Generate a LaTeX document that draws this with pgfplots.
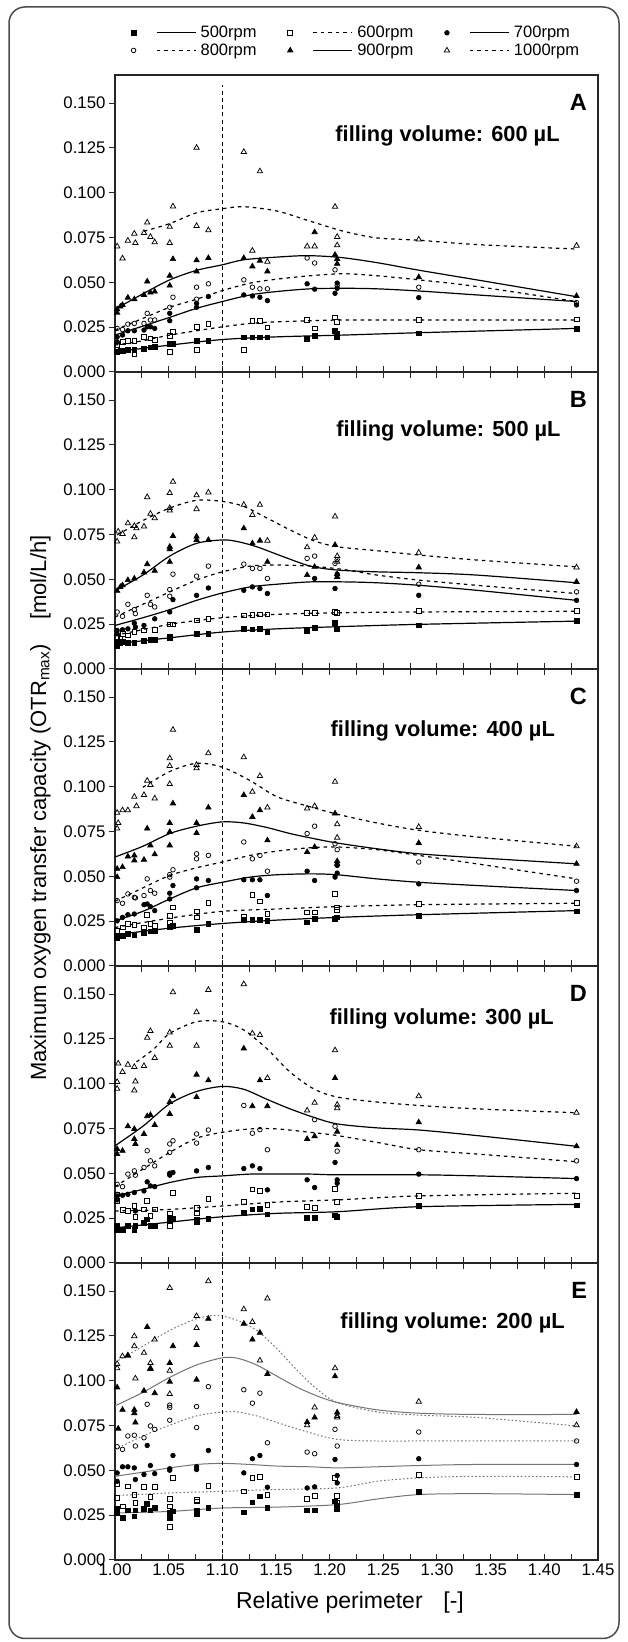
\documentclass[border=0pt]{standalone}
\usepackage{pgfplots}
\pgfplotsset{compat=1.18}
\usepackage{fontspec}
\setmainfont{Liberation Sans}

\tikzset{
 m500/.style={mark=square*, mark size=2.4pt, mark options={solid, draw=black, fill=black, line width=0.7pt}},
 m600/.style={mark=square, mark size=2.4pt, mark options={solid, draw=black, line width=0.75pt}},
 m700/.style={mark=*, mark size=2.3pt, mark options={solid, draw=black, fill=black, line width=0.7pt}},
 m800/.style={mark=o, mark size=2.3pt, mark options={solid, draw=black, line width=0.75pt}},
 m900/.style={mark=triangle*, mark size=3.1pt, mark options={solid, draw=black, fill=black, line width=0.7pt}},
 m1000/.style={mark=triangle, mark size=3.1pt, mark options={solid, draw=black, line width=0.75pt}},
 vline/.style={black, line width=1.2pt, dash pattern=on 4pt off 3.3pt},
}
\pgfplotsset{
 panel/.style={scale only axis, width=483pt, height=297pt, anchor=south west,
  xmin=1, xmax=1.45, ymin=0, ymax=0.1657,
  axis line style={black!85, line width=1.2pt},
  tick style={black!85, line width=1pt},
  xtick={1,1.05,1.1,1.15,1.2,1.25,1.3,1.35,1.4,1.45},
  minor xtick={1.025,1.075,1.125,1.175,1.225,1.275,1.325,1.375,1.425},
  ytick={0,0.025,0.05,0.075,0.1,0.125,0.15},
  scaled x ticks=false, scaled y ticks=false,
  ytick pos=left, xtick align=inside, ytick align=outside,
  major tick length=6pt, minor tick length=6pt,
  tick label style={font=\fontsize{16.8}{19}\selectfont},
  yticklabel style={/pgf/number format/.cd,fixed,fixed zerofill,precision=3},
  xticklabel style={/pgf/number format/.cd,fixed,fixed zerofill,precision=2},
  /pgf/number format/assume math mode=true,
 },
 sc/.style={only marks, forget plot},
 fs/.style={black, line width=1.2pt, smooth, no marks, forget plot},
 fd/.style={black, line width=1.2pt, smooth, no marks, forget plot, dash pattern=on 3.5pt off 4pt},
 gs/.style={black!55, line width=1pt, smooth, no marks, forget plot},
 gd/.style={black!55, line width=1pt, smooth, no marks, forget plot, dash pattern=on 1.6pt off 2.2pt},
}
\newcommand{\plabel}[3]{%
 \node[anchor=east, font=\bfseries\fontsize{23.5}{26}\selectfont] at (axis cs:1.443,0.1505) {#1};
 \node[font=\bfseries\fontsize{21.8}{24}\selectfont] at (axis cs:#3) {filling volume: #2 µL};
}

\begin{document}
\begin{tikzpicture}
\useasboundingbox (0,0) rectangle (627pt,1642pt);
\draw[rounded corners=16pt, line width=1.5pt, black!70] (9pt,3.5pt) rectangle (619pt,1635pt);

% ---------------- Panel A: 600 uL
\begin{axis}[panel, at={(115pt,1270pt)}, xtick pos=bottom, xticklabels={},
  legend columns=3, legend cell align=left,
  legend style={draw=none, fill=none, at={(axis description cs:0.0331,1.1663)}, anchor=north west,
   font=\fontsize{16.5}{19}\selectfont, inner sep=0pt, row sep=3.6pt, nodes={inner sep=0.5pt},
   /tikz/every odd column/.append style={column sep=4pt},
   /tikz/every even column/.append style={column sep=30.5pt}}]
\addplot[sc,m1000] coordinates {(1.002,0.0701)(1.007,0.0634)(1.012,0.0733)(1.018,0.0772)(1.019,0.0720)(1.027,0.0776)(1.030,0.0834)(1.033,0.0754)(1.037,0.0724)(1.051,0.0720)(1.051,0.0810)(1.054,0.0924)(1.076,0.1251)(1.076,0.0815)(1.087,0.0791)(1.120,0.1228)(1.128,0.0677)(1.135,0.1120)(1.142,0.0615)(1.179,0.0701)(1.186,0.0701)(1.205,0.0922)(1.207,0.0754)(1.207,0.0707)(1.283,0.0739)(1.430,0.0705)};
\addplot[sc,m900] coordinates {(1.002,0.0350)(1.002,0.0331)(1.005,0.0365)(1.007,0.0374)(1.012,0.0415)(1.018,0.0406)(1.027,0.0430)(1.030,0.0505)(1.033,0.0443)(1.037,0.0449)(1.051,0.0482)(1.051,0.0537)(1.054,0.0630)(1.076,0.0623)(1.076,0.0561)(1.087,0.0636)(1.120,0.0636)(1.128,0.0589)(1.135,0.0621)(1.142,0.0561)(1.186,0.0780)(1.205,0.0654)(1.207,0.0630)(1.207,0.0604)(1.283,0.0529)(1.430,0.0424)};
\addplot[sc,m800] coordinates {(1.002,0.0243)(1.007,0.0237)(1.012,0.0267)(1.018,0.0271)(1.027,0.0271)(1.030,0.0327)(1.033,0.0290)(1.037,0.0290)(1.051,0.0361)(1.054,0.0417)(1.076,0.0473)(1.076,0.0406)(1.087,0.0492)(1.120,0.0514)(1.128,0.0473)(1.135,0.0464)(1.142,0.0464)(1.179,0.0636)(1.186,0.0608)(1.205,0.0570)(1.207,0.0481)(1.283,0.0473)(1.430,0.0387)};
\addplot[sc,m700] coordinates {(1.002,0.0196)(1.002,0.0168)(1.007,0.0206)(1.012,0.0230)(1.018,0.0230)(1.027,0.0234)(1.030,0.0252)(1.033,0.0252)(1.037,0.0243)(1.051,0.0286)(1.051,0.0327)(1.076,0.0383)(1.076,0.0361)(1.087,0.0421)(1.120,0.0430)(1.128,0.0424)(1.135,0.0417)(1.142,0.0398)(1.179,0.0492)(1.186,0.0462)(1.205,0.0439)(1.207,0.0496)(1.207,0.0467)(1.283,0.0415)(1.430,0.0374)};
\addplot[sc,m600] coordinates {(1.002,0.0150)(1.007,0.0168)(1.012,0.0174)(1.018,0.0174)(1.018,0.0103)(1.027,0.0196)(1.033,0.0187)(1.037,0.0181)(1.051,0.0112)(1.051,0.0200)(1.054,0.0224)(1.076,0.0252)(1.076,0.0125)(1.087,0.0267)(1.120,0.0125)(1.128,0.0286)(1.135,0.0286)(1.142,0.0249)(1.179,0.0290)(1.186,0.0243)(1.205,0.0305)(1.207,0.0280)(1.283,0.0290)(1.430,0.0294)};
\addplot[sc,m500] coordinates {(1.002,0.0112)(1.005,0.0116)(1.007,0.0118)(1.012,0.0122)(1.018,0.0125)(1.027,0.0131)(1.033,0.0137)(1.037,0.0140)(1.051,0.0155)(1.054,0.0155)(1.076,0.0174)(1.087,0.0174)(1.120,0.0193)(1.128,0.0193)(1.135,0.0193)(1.142,0.0193)(1.179,0.0187)(1.186,0.0202)(1.205,0.0230)(1.207,0.0211)(1.207,0.0196)(1.283,0.0215)(1.430,0.0241)};
\addplot[fd] coordinates {(1.027,0.0785)(1.051,0.0828)(1.076,0.0888)(1.100,0.0911)(1.120,0.0922)(1.151,0.0898)(1.182,0.0841)(1.213,0.0785)(1.244,0.0748)(1.283,0.0735)(1.337,0.0711)(1.430,0.0686)};
\addplot[fs] coordinates {(1.000,0.0350)(1.026,0.0436)(1.051,0.0514)(1.076,0.0567)(1.100,0.0598)(1.120,0.0626)(1.151,0.0641)(1.179,0.0649)(1.210,0.0639)(1.244,0.0610)(1.283,0.0568)(1.337,0.0514)(1.430,0.0420)};
\addplot[fd] coordinates {(1.000,0.0234)(1.026,0.0299)(1.051,0.0361)(1.076,0.0406)(1.100,0.0454)(1.126,0.0496)(1.151,0.0518)(1.182,0.0537)(1.213,0.0548)(1.244,0.0537)(1.283,0.0514)(1.337,0.0477)(1.430,0.0393)};
\addplot[fs] coordinates {(1.000,0.0206)(1.026,0.0256)(1.051,0.0305)(1.076,0.0355)(1.100,0.0393)(1.126,0.0430)(1.151,0.0449)(1.182,0.0464)(1.213,0.0467)(1.244,0.0464)(1.283,0.0452)(1.337,0.0430)(1.430,0.0393)};
\addplot[fd] coordinates {(1.000,0.0150)(1.026,0.0174)(1.051,0.0206)(1.076,0.0230)(1.100,0.0252)(1.126,0.0271)(1.151,0.0280)(1.182,0.0286)(1.213,0.0290)(1.283,0.0290)(1.430,0.0290)};
\addplot[fs] coordinates {(1.000,0.0112)(1.051,0.0150)(1.100,0.0181)(1.151,0.0196)(1.213,0.0206)(1.283,0.0219)(1.430,0.0243)};
\draw[vline] (axis cs:1.1,0) -- (axis cs:1.1,0.160);
\plabel{A}{600}{1.3098,0.1316}
\addlegendimage{legend image code/.code={\draw[m500] plot coordinates {(0pt,0pt)}; \draw[black,line width=1.1pt] (23pt,0pt) -- (62pt,0pt);}}
\addlegendentry{500rpm}
\addlegendimage{legend image code/.code={\draw[m600] plot coordinates {(0pt,0pt)}; \draw[black,line width=1.1pt,dash pattern=on 3.5pt off 4pt] (23pt,0pt) -- (62pt,0pt);}}
\addlegendentry{600rpm}
\addlegendimage{legend image code/.code={\draw[m700] plot coordinates {(0pt,0pt)}; \draw[black,line width=1.1pt] (23pt,0pt) -- (62pt,0pt);}}
\addlegendentry{700rpm}
\addlegendimage{legend image code/.code={\draw[m800] plot coordinates {(0pt,0pt)}; \draw[black,line width=1.1pt,dash pattern=on 3.5pt off 4pt] (23pt,0pt) -- (62pt,0pt);}}
\addlegendentry{800rpm}
\addlegendimage{legend image code/.code={\draw[m900] plot coordinates {(0pt,0pt)}; \draw[black,line width=1.1pt] (23pt,0pt) -- (62pt,0pt);}}
\addlegendentry{900rpm}
\addlegendimage{legend image code/.code={\draw[m1000] plot coordinates {(0pt,0pt)}; \draw[black,line width=1.1pt,dash pattern=on 3.5pt off 4pt] (23pt,0pt) -- (62pt,0pt);}}
\addlegendentry{1000rpm}
\end{axis}

% ---------------- Panel B: 500 uL
\begin{axis}[panel, at={(115pt,973pt)}, xtick pos=both, xticklabels={}]
\addplot[sc,m1000] coordinates {(1.002,0.0711)(1.003,0.0767)(1.007,0.0754)(1.012,0.0813)(1.018,0.0735)(1.018,0.0798)(1.020,0.0785)(1.027,0.0795)(1.030,0.0959)(1.033,0.0866)(1.037,0.0841)(1.051,0.0884)(1.051,0.0898)(1.051,0.0982)(1.054,0.1045)(1.076,0.0892)(1.076,0.0969)(1.087,0.0985)(1.120,0.0916)(1.128,0.0860)(1.135,0.0916)(1.142,0.0716)(1.179,0.0679)(1.186,0.0733)(1.205,0.0851)(1.207,0.0630)(1.207,0.0598)(1.283,0.0649)(1.430,0.0567)};
\addplot[sc,m900] coordinates {(1.002,0.0436)(1.005,0.0458)(1.007,0.0467)(1.012,0.0496)(1.018,0.0505)(1.027,0.0539)(1.030,0.0585)(1.037,0.0548)(1.051,0.0598)(1.051,0.0668)(1.051,0.0682)(1.054,0.0742)(1.076,0.0739)(1.076,0.0720)(1.087,0.0720)(1.120,0.0785)(1.128,0.0701)(1.135,0.0716)(1.142,0.0598)(1.179,0.0524)(1.186,0.0570)(1.205,0.0692)(1.207,0.0529)(1.207,0.0514)(1.283,0.0567)(1.430,0.0486)};
\addplot[sc,m800] coordinates {(1.002,0.0318)(1.007,0.0294)(1.012,0.0361)(1.018,0.0331)(1.019,0.0309)(1.030,0.0411)(1.033,0.0361)(1.037,0.0346)(1.051,0.0406)(1.051,0.0443)(1.054,0.0529)(1.076,0.0518)(1.087,0.0574)(1.120,0.0585)(1.128,0.0561)(1.135,0.0561)(1.142,0.0505)(1.179,0.0617)(1.186,0.0630)(1.205,0.0589)(1.207,0.0611)(1.283,0.0473)(1.430,0.0430)};
\addplot[sc,m700] coordinates {(1.002,0.0215)(1.002,0.0196)(1.007,0.0219)(1.012,0.0224)(1.018,0.0256)(1.019,0.0234)(1.027,0.0243)(1.037,0.0280)(1.051,0.0318)(1.054,0.0387)(1.076,0.0411)(1.087,0.0452)(1.120,0.0439)(1.128,0.0458)(1.135,0.0449)(1.142,0.0421)(1.186,0.0505)(1.205,0.0449)(1.207,0.0529)(1.283,0.0411)(1.430,0.0383)};
\addplot[sc,m600] coordinates {(1.002,0.0178)(1.005,0.0168)(1.007,0.0196)(1.012,0.0187)(1.018,0.0206)(1.027,0.0215)(1.037,0.0219)(1.051,0.0249)(1.054,0.0249)(1.076,0.0271)(1.087,0.0280)(1.120,0.0299)(1.128,0.0303)(1.135,0.0305)(1.142,0.0305)(1.179,0.0312)(1.186,0.0312)(1.205,0.0318)(1.207,0.0314)(1.283,0.0322)(1.430,0.0322)};
\addplot[sc,m500] coordinates {(1.002,0.0131)(1.002,0.0150)(1.005,0.0144)(1.007,0.0150)(1.012,0.0144)(1.018,0.0144)(1.027,0.0159)(1.033,0.0163)(1.037,0.0163)(1.051,0.0174)(1.051,0.0181)(1.076,0.0196)(1.087,0.0196)(1.120,0.0224)(1.128,0.0221)(1.135,0.0223)(1.142,0.0206)(1.179,0.0215)(1.186,0.0230)(1.205,0.0256)(1.207,0.0224)(1.283,0.0243)(1.430,0.0267)};
\addplot[fd] coordinates {(1.002,0.0748)(1.026,0.0828)(1.051,0.0898)(1.076,0.0941)(1.100,0.0935)(1.120,0.0907)(1.142,0.0841)(1.163,0.0776)(1.185,0.0716)(1.207,0.0682)(1.244,0.0660)(1.283,0.0636)(1.337,0.0608)(1.430,0.0570)};
\addplot[fs] coordinates {(1.000,0.0436)(1.026,0.0524)(1.051,0.0630)(1.076,0.0701)(1.100,0.0720)(1.114,0.0711)(1.132,0.0682)(1.157,0.0626)(1.182,0.0574)(1.207,0.0552)(1.244,0.0542)(1.283,0.0537)(1.337,0.0524)(1.430,0.0481)};
\addplot[fd] coordinates {(1.000,0.0290)(1.026,0.0361)(1.051,0.0430)(1.076,0.0496)(1.100,0.0542)(1.126,0.0574)(1.151,0.0580)(1.182,0.0574)(1.213,0.0555)(1.244,0.0524)(1.283,0.0496)(1.337,0.0467)(1.430,0.0421)};
\addplot[fs] coordinates {(1.000,0.0243)(1.026,0.0286)(1.051,0.0331)(1.076,0.0383)(1.100,0.0424)(1.126,0.0458)(1.151,0.0473)(1.182,0.0486)(1.213,0.0486)(1.244,0.0481)(1.283,0.0467)(1.337,0.0439)(1.430,0.0383)};
\addplot[fd] coordinates {(1.000,0.0187)(1.051,0.0249)(1.100,0.0286)(1.151,0.0305)(1.213,0.0314)(1.283,0.0318)(1.430,0.0322)};
\addplot[fs] coordinates {(1.000,0.0140)(1.051,0.0174)(1.100,0.0206)(1.151,0.0224)(1.213,0.0237)(1.283,0.0249)(1.430,0.0267)};
\draw[vline] (axis cs:1.1,0) -- (axis cs:1.1,0.1657);
\plabel{B}{500}{1.3107,0.1329}
\end{axis}

% ---------------- Panel C: 400 uL
\begin{axis}[panel, at={(115pt,676pt)}, xtick pos=both, xticklabels={}]
\addplot[sc,m1000] coordinates {(1.002,0.0855)(1.003,0.0798)(1.002,0.0767)(1.007,0.0869)(1.012,0.0869)(1.018,0.0944)(1.020,0.0892)(1.027,0.0954)(1.030,0.1034)(1.033,0.1010)(1.037,0.0935)(1.051,0.1015)(1.051,0.1159)(1.051,0.1116)(1.054,0.1318)(1.076,0.1122)(1.076,0.1103)(1.087,0.1187)(1.120,0.1165)(1.128,0.0972)(1.135,0.1060)(1.142,0.0884)(1.179,0.0879)(1.186,0.0892)(1.205,0.1028)(1.207,0.0791)(1.207,0.0716)(1.283,0.0776)(1.430,0.0668)};
\addplot[sc,m900] coordinates {(1.002,0.0496)(1.002,0.0542)(1.007,0.0552)(1.012,0.0611)(1.018,0.0617)(1.018,0.0589)(1.027,0.0593)(1.030,0.0767)(1.033,0.0673)(1.037,0.0623)(1.051,0.0673)(1.051,0.0748)(1.051,0.0798)(1.054,0.0907)(1.076,0.0798)(1.076,0.0742)(1.087,0.0884)(1.120,0.0954)(1.128,0.0832)(1.135,0.0869)(1.142,0.0701)(1.179,0.0636)(1.186,0.0664)(1.205,0.0851)(1.207,0.0570)(1.207,0.0585)(1.283,0.0686)(1.430,0.0570)};
\addplot[sc,m800] coordinates {(1.002,0.0365)(1.007,0.0350)(1.012,0.0402)(1.018,0.0383)(1.019,0.0380)(1.027,0.0393)(1.030,0.0486)(1.033,0.0421)(1.037,0.0406)(1.051,0.0496)(1.051,0.0510)(1.054,0.0537)(1.076,0.0626)(1.076,0.0598)(1.087,0.0617)(1.120,0.0692)(1.128,0.0598)(1.135,0.0617)(1.142,0.0529)(1.179,0.0739)(1.186,0.0780)(1.205,0.0682)(1.207,0.0649)(1.283,0.0580)(1.430,0.0473)};
\addplot[sc,m700] coordinates {(1.002,0.0252)(1.007,0.0271)(1.012,0.0286)(1.018,0.0290)(1.027,0.0342)(1.030,0.0346)(1.033,0.0331)(1.037,0.0309)(1.051,0.0374)(1.051,0.0406)(1.054,0.0449)(1.076,0.0486)(1.076,0.0436)(1.087,0.0477)(1.120,0.0481)(1.128,0.0481)(1.135,0.0481)(1.142,0.0393)(1.179,0.0529)(1.186,0.0477)(1.205,0.0496)(1.207,0.0518)(1.207,0.0561)(1.283,0.0458)(1.430,0.0421)};
\addplot[sc,m600] coordinates {(1.002,0.0196)(1.007,0.0215)(1.012,0.0234)(1.018,0.0230)(1.027,0.0215)(1.030,0.0286)(1.033,0.0234)(1.037,0.0223)(1.051,0.0243)(1.051,0.0280)(1.054,0.0327)(1.076,0.0305)(1.076,0.0271)(1.087,0.0350)(1.120,0.0275)(1.128,0.0398)(1.135,0.0361)(1.142,0.0290)(1.179,0.0299)(1.186,0.0299)(1.205,0.0402)(1.207,0.0327)(1.207,0.0312)(1.283,0.0346)(1.430,0.0350)};
\addplot[sc,m500] coordinates {(1.002,0.0155)(1.002,0.0168)(1.007,0.0168)(1.012,0.0181)(1.018,0.0174)(1.027,0.0187)(1.033,0.0193)(1.037,0.0193)(1.051,0.0219)(1.054,0.0223)(1.076,0.0200)(1.087,0.0234)(1.120,0.0256)(1.128,0.0256)(1.135,0.0256)(1.142,0.0252)(1.179,0.0243)(1.186,0.0262)(1.205,0.0262)(1.207,0.0271)(1.283,0.0280)(1.430,0.0305)};
\addplot[fd] coordinates {(1.026,0.0997)(1.051,0.1085)(1.076,0.1131)(1.100,0.1109)(1.126,0.1034)(1.151,0.0944)(1.182,0.0888)(1.207,0.0847)(1.244,0.0798)(1.283,0.0757)(1.337,0.0720)(1.430,0.0668)};
\addplot[fs] coordinates {(1.000,0.0608)(1.026,0.0668)(1.051,0.0739)(1.076,0.0780)(1.100,0.0804)(1.120,0.0798)(1.142,0.0772)(1.163,0.0739)(1.185,0.0711)(1.207,0.0686)(1.244,0.0654)(1.283,0.0626)(1.337,0.0604)(1.430,0.0570)};
\addplot[fd] coordinates {(1.000,0.0361)(1.026,0.0436)(1.051,0.0505)(1.076,0.0548)(1.100,0.0580)(1.126,0.0617)(1.151,0.0641)(1.182,0.0660)(1.207,0.0664)(1.244,0.0649)(1.283,0.0617)(1.337,0.0570)(1.430,0.0486)};
\addplot[fs] coordinates {(1.000,0.0252)(1.026,0.0305)(1.051,0.0374)(1.076,0.0436)(1.100,0.0467)(1.126,0.0496)(1.151,0.0509)(1.182,0.0514)(1.207,0.0509)(1.244,0.0486)(1.283,0.0467)(1.337,0.0449)(1.430,0.0421)};
\addplot[fd] coordinates {(1.000,0.0215)(1.051,0.0267)(1.100,0.0305)(1.151,0.0318)(1.207,0.0331)(1.283,0.0342)(1.430,0.0350)};
\addplot[fs] coordinates {(1.000,0.0174)(1.051,0.0211)(1.100,0.0237)(1.151,0.0256)(1.207,0.0271)(1.283,0.0286)(1.430,0.0309)};
\draw[vline] (axis cs:1.1,0) -- (axis cs:1.1,0.1657);
\plabel{C}{400}{1.3054,0.1310}
\end{axis}

% ---------------- Panel D: 300 uL
\begin{axis}[panel, at={(115pt,379pt)}, xtick pos=both, xticklabels={}]
\addplot[sc,m1000] coordinates {(1.002,0.1010)(1.002,0.0972)(1.003,0.1113)(1.007,0.1066)(1.012,0.1107)(1.018,0.1094)(1.019,0.1013)(1.018,0.0963)(1.027,0.1099)(1.030,0.1257)(1.033,0.1294)(1.037,0.1144)(1.051,0.1212)(1.051,0.1286)(1.054,0.1511)(1.076,0.1212)(1.076,0.1399)(1.087,0.1524)(1.120,0.1556)(1.128,0.1281)(1.135,0.1272)(1.142,0.1032)(1.179,0.0851)(1.186,0.0894)(1.205,0.1187)(1.207,0.0883)(1.207,0.0864)(1.283,0.0931)(1.430,0.0838)};
\addplot[sc,m900] coordinates {(1.002,0.0608)(1.002,0.0636)(1.007,0.0626)(1.012,0.0763)(1.018,0.0748)(1.018,0.0692)(1.019,0.0664)(1.027,0.0720)(1.030,0.0819)(1.033,0.0826)(1.037,0.0770)(1.051,0.0832)(1.051,0.0898)(1.054,0.0931)(1.076,0.0926)(1.076,0.1051)(1.087,0.1019)(1.120,0.1197)(1.128,0.0875)(1.135,0.1019)(1.142,0.0875)(1.179,0.0692)(1.186,0.0707)(1.205,0.1032)(1.207,0.0733)(1.207,0.0658)(1.283,0.0785)(1.430,0.0651)};
\addplot[sc,m800] coordinates {(1.002,0.0439)(1.002,0.0383)(1.007,0.0426)(1.012,0.0496)(1.018,0.0514)(1.019,0.0490)(1.027,0.0533)(1.030,0.0626)(1.033,0.0570)(1.037,0.0542)(1.051,0.0617)(1.051,0.0664)(1.054,0.0682)(1.076,0.0720)(1.076,0.0669)(1.087,0.0742)(1.120,0.0879)(1.128,0.0724)(1.135,0.0744)(1.142,0.0632)(1.186,0.0800)(1.205,0.0763)(1.207,0.0624)(1.283,0.0632)(1.430,0.0570)};
\addplot[sc,m700] coordinates {(1.002,0.0352)(1.002,0.0374)(1.007,0.0378)(1.012,0.0383)(1.018,0.0393)(1.019,0.0290)(1.027,0.0402)(1.030,0.0453)(1.033,0.0430)(1.037,0.0426)(1.051,0.0490)(1.051,0.0501)(1.054,0.0505)(1.076,0.0514)(1.087,0.0533)(1.120,0.0527)(1.128,0.0542)(1.135,0.0527)(1.142,0.0408)(1.179,0.0464)(1.186,0.0421)(1.205,0.0561)(1.207,0.0464)(1.207,0.0445)(1.283,0.0496)(1.430,0.0471)};
\addplot[sc,m600] coordinates {(1.002,0.0383)(1.002,0.0346)(1.007,0.0295)(1.012,0.0290)(1.018,0.0318)(1.019,0.0258)(1.027,0.0299)(1.030,0.0346)(1.033,0.0262)(1.037,0.0299)(1.051,0.0206)(1.051,0.0277)(1.054,0.0389)(1.076,0.0309)(1.076,0.0277)(1.087,0.0359)(1.120,0.0340)(1.128,0.0411)(1.135,0.0402)(1.142,0.0325)(1.179,0.0314)(1.186,0.0307)(1.205,0.0415)(1.207,0.0340)(1.283,0.0374)(1.430,0.0374)};
\addplot[sc,m500] coordinates {(1.002,0.0183)(1.002,0.0206)(1.007,0.0187)(1.012,0.0206)(1.018,0.0187)(1.019,0.0206)(1.027,0.0224)(1.030,0.0243)(1.033,0.0209)(1.037,0.0206)(1.051,0.0234)(1.051,0.0252)(1.054,0.0247)(1.076,0.0228)(1.076,0.0243)(1.087,0.0247)(1.120,0.0280)(1.128,0.0299)(1.135,0.0303)(1.142,0.0271)(1.179,0.0252)(1.186,0.0252)(1.205,0.0266)(1.207,0.0258)(1.283,0.0318)(1.430,0.0322)};
\addplot[fd] coordinates {(1.020,0.1122)(1.036,0.1193)(1.051,0.1281)(1.076,0.1346)(1.100,0.1346)(1.120,0.1300)(1.142,0.1193)(1.163,0.1066)(1.185,0.0972)(1.207,0.0926)(1.244,0.0898)(1.283,0.0879)(1.337,0.0860)(1.430,0.0838)};
\addplot[fs] coordinates {(1.000,0.0654)(1.026,0.0763)(1.051,0.0888)(1.076,0.0957)(1.100,0.0985)(1.120,0.0969)(1.142,0.0912)(1.163,0.0860)(1.185,0.0813)(1.207,0.0776)(1.244,0.0754)(1.283,0.0742)(1.337,0.0711)(1.430,0.0651)};
\addplot[fd] coordinates {(1.000,0.0426)(1.026,0.0524)(1.051,0.0617)(1.076,0.0696)(1.100,0.0729)(1.126,0.0748)(1.151,0.0748)(1.182,0.0729)(1.207,0.0711)(1.244,0.0673)(1.283,0.0632)(1.337,0.0608)(1.430,0.0565)};
\addplot[fs] coordinates {(1.000,0.0374)(1.026,0.0411)(1.051,0.0449)(1.076,0.0477)(1.100,0.0486)(1.126,0.0496)(1.151,0.0496)(1.182,0.0496)(1.207,0.0492)(1.283,0.0492)(1.337,0.0486)(1.430,0.0471)};
\addplot[fd] coordinates {(1.000,0.0290)(1.051,0.0299)(1.100,0.0318)(1.151,0.0340)(1.207,0.0352)(1.283,0.0374)(1.430,0.0389)};
\addplot[fs] coordinates {(1.000,0.0196)(1.051,0.0228)(1.100,0.0258)(1.151,0.0277)(1.207,0.0286)(1.283,0.0314)(1.430,0.0327)};
\draw[vline] (axis cs:1.1,0) -- (axis cs:1.1,0.1657);
\plabel{D}{300}{1.3044,0.1360}
\end{axis}

% ---------------- Panel E: 200 uL
\begin{axis}[panel, at={(115pt,82pt)}, xtick pos=both]
\addplot[sc,m1000] coordinates {(1.002,0.1094)(1.002,0.1070)(1.007,0.1137)(1.012,0.1141)(1.018,0.1249)(1.018,0.1193)(1.019,0.1013)(1.027,0.1156)(1.033,0.1099)(1.033,0.1066)(1.037,0.1230)(1.051,0.1056)(1.051,0.0926)(1.051,0.1518)(1.076,0.1361)(1.076,0.1294)(1.087,0.1556)(1.120,0.1399)(1.128,0.1328)(1.135,0.1113)(1.142,0.1459)(1.179,0.0752)(1.186,0.0851)(1.205,0.1070)(1.207,0.0804)(1.207,0.0795)(1.283,0.0883)(1.430,0.0752)};
\addplot[sc,m900] coordinates {(1.002,0.0963)(1.003,0.0733)(1.007,0.0838)(1.012,0.1141)(1.018,0.0838)(1.018,0.0819)(1.019,0.0767)(1.027,0.0944)(1.030,0.1300)(1.033,0.1070)(1.037,0.0931)(1.051,0.1099)(1.051,0.0995)(1.054,0.1193)(1.076,0.1200)(1.076,0.1006)(1.087,0.1346)(1.120,0.1318)(1.128,0.1230)(1.135,0.1268)(1.142,0.1038)(1.179,0.0770)(1.186,0.0795)(1.205,0.1025)(1.207,0.0823)(1.430,0.0826)};
\addplot[sc,m800] coordinates {(1.002,0.0632)(1.007,0.0617)(1.012,0.0692)(1.018,0.0696)(1.019,0.0636)(1.027,0.0682)(1.030,0.0869)(1.033,0.0748)(1.037,0.0729)(1.051,0.0864)(1.051,0.0851)(1.051,0.0780)(1.076,0.0856)(1.076,0.0739)(1.087,0.0967)(1.120,0.0950)(1.128,0.0875)(1.135,0.0931)(1.142,0.0654)(1.179,0.0602)(1.186,0.0593)(1.205,0.0729)(1.207,0.0636)(1.283,0.0714)(1.430,0.0664)};
\addplot[sc,m700] coordinates {(1.002,0.0486)(1.002,0.0439)(1.007,0.0520)(1.012,0.0520)(1.018,0.0514)(1.019,0.0449)(1.027,0.0477)(1.030,0.0639)(1.033,0.0527)(1.037,0.0482)(1.051,0.0509)(1.051,0.0501)(1.054,0.0583)(1.076,0.0520)(1.076,0.0505)(1.087,0.0611)(1.120,0.0486)(1.128,0.0565)(1.135,0.0583)(1.142,0.0406)(1.179,0.0402)(1.186,0.0408)(1.205,0.0561)(1.207,0.0471)(1.207,0.0430)(1.283,0.0565)(1.430,0.0533)};
\addplot[sc,m600] coordinates {(1.002,0.0426)(1.002,0.0346)(1.007,0.0299)(1.012,0.0411)(1.018,0.0365)(1.019,0.0318)(1.027,0.0408)(1.033,0.0352)(1.037,0.0408)(1.051,0.0340)(1.051,0.0299)(1.051,0.0183)(1.054,0.0458)(1.076,0.0337)(1.076,0.0327)(1.087,0.0415)(1.120,0.0383)(1.128,0.0458)(1.135,0.0464)(1.142,0.0365)(1.179,0.0340)(1.186,0.0359)(1.205,0.0458)(1.207,0.0359)(1.207,0.0318)(1.283,0.0477)(1.430,0.0464)};
\addplot[sc,m500] coordinates {(1.002,0.0284)(1.002,0.0262)(1.007,0.0234)(1.012,0.0277)(1.018,0.0243)(1.019,0.0277)(1.027,0.0284)(1.030,0.0314)(1.033,0.0277)(1.037,0.0290)(1.051,0.0266)(1.051,0.0234)(1.051,0.0243)(1.054,0.0271)(1.076,0.0277)(1.076,0.0258)(1.087,0.0290)(1.120,0.0266)(1.128,0.0322)(1.135,0.0355)(1.142,0.0290)(1.179,0.0277)(1.186,0.0277)(1.205,0.0327)(1.207,0.0303)(1.207,0.0284)(1.283,0.0378)(1.430,0.0365)};
\addplot[gd] coordinates {(1.000,0.1103)(1.026,0.1193)(1.051,0.1281)(1.076,0.1346)(1.095,0.1365)(1.114,0.1337)(1.132,0.1281)(1.151,0.1178)(1.170,0.1056)(1.188,0.0954)(1.207,0.0879)(1.244,0.0826)(1.283,0.0808)(1.337,0.0795)(1.430,0.0748)};
\addplot[gs] coordinates {(1.000,0.0860)(1.026,0.0935)(1.051,0.1019)(1.076,0.1088)(1.100,0.1128)(1.114,0.1126)(1.132,0.1088)(1.151,0.1025)(1.170,0.0963)(1.188,0.0916)(1.207,0.0879)(1.244,0.0838)(1.283,0.0819)(1.337,0.0812)(1.430,0.0812)};
\addplot[gd] coordinates {(1.000,0.0617)(1.026,0.0692)(1.051,0.0752)(1.076,0.0804)(1.100,0.0826)(1.114,0.0826)(1.132,0.0804)(1.151,0.0767)(1.176,0.0720)(1.207,0.0673)(1.244,0.0664)(1.283,0.0664)(1.430,0.0664)};
\addplot[gs] coordinates {(1.000,0.0467)(1.026,0.0490)(1.051,0.0514)(1.076,0.0533)(1.100,0.0539)(1.126,0.0533)(1.151,0.0524)(1.182,0.0520)(1.207,0.0514)(1.244,0.0520)(1.283,0.0527)(1.337,0.0533)(1.430,0.0533)};
\addplot[gd] coordinates {(1.000,0.0359)(1.051,0.0374)(1.100,0.0383)(1.151,0.0393)(1.207,0.0402)(1.244,0.0439)(1.283,0.0458)(1.337,0.0467)(1.430,0.0464)};
\addplot[gs] coordinates {(1.000,0.0262)(1.051,0.0271)(1.100,0.0290)(1.151,0.0295)(1.207,0.0309)(1.244,0.0340)(1.283,0.0365)(1.337,0.0370)(1.430,0.0365)};
\draw[vline] (axis cs:1.1,0) -- (axis cs:1.1,0.1657);
\plabel{E}{200}{1.3145,0.1324}
\end{axis}

\node[rotate=90, font=\fontsize{22}{25}\selectfont] at (40.5pt,834pt) {Maximum oxygen transfer capacity (OTR\textsubscript{max})\hspace{1.1em}[mol/L/h]};
\node[font=\fontsize{23}{26}\selectfont] at (350pt,39pt) {Relative perimeter\hspace{0.9em}[-]};
\end{tikzpicture}
\end{document}
